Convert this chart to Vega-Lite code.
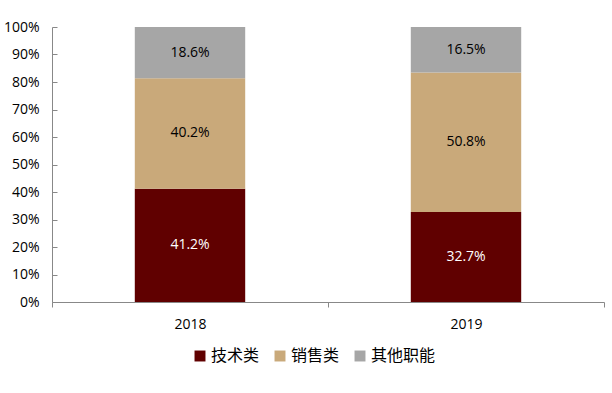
{
  "$schema": "https://vega.github.io/schema/vega-lite/v6.json",
  "width": 552,
  "height": 275,
  "autosize": {"type": "none"},
  "padding": {"left": 52, "top": 27, "right": 8, "bottom": 91},
  "background": "white",
  "data": {
    "values": [
      {"year": "2018", "cat": "技术类", "o": 1, "v": 41.2},
      {"year": "2018", "cat": "销售类", "o": 2, "v": 40.2},
      {"year": "2018", "cat": "其他职能", "o": 3, "v": 18.6},
      {"year": "2019", "cat": "技术类", "o": 1, "v": 32.7},
      {"year": "2019", "cat": "销售类", "o": 2, "v": 50.8},
      {"year": "2019", "cat": "其他职能", "o": 3, "v": 16.5}
    ]
  },
  "encoding": {
    "x": {
      "field": "year", "type": "nominal", "title": null,
      "scale": {"paddingInner": 0, "paddingOuter": 0},
      "axis": {"labelAngle": 0, "domainColor": "#888", "tickColor": "#888", "tickBand": "extent", "tickSize": 5, "labelPadding": 10, "labelFont": "Open Sans", "labelFontSize": 14, "labelColor": "#000"}
    },
    "y": {
      "field": "v", "type": "quantitative", "stack": "zero", "title": null,
      "scale": {"domain": [0, 100]},
      "axis": {"values": [0,10,20,30,40,50,60,70,80,90,100], "labelExpr": "datum.value + '%'", "grid": false, "domainColor": "#888", "tickColor": "#888", "tickSize": -5, "labelPadding": 18, "labelFont": "Open Sans", "labelFontSize": 14, "labelColor": "#000"}
    },
    "order": {"field": "o"}
  },
  "layer": [
    {
      "mark": {"type": "bar", "width": {"band": 0.4}},
      "encoding": {
        "color": {
          "field": "cat", "type": "nominal",
          "scale": {"domain": ["技术类", "销售类", "其他职能"], "range": ["#600000", "#C9A97A", "#A6A6A6"]},
          "legend": {"orient": "none", "legendX": 140, "legendY": 321, "direction": "horizontal", "title": null, "symbolType": "square", "symbolSize": 120, "symbolStrokeWidth": 0, "labelFont": "Noto Sans CJK SC", "labelFontSize": 16, "labelColor": "#000", "columnPadding": 12, "labelOffset": 3}
        }
      }
    },
    {
      "mark": {"type": "text", "font": "Open Sans", "fontSize": 14, "text": {"expr": "format(datum.v, '.1f') + '%'"}},
      "encoding": {
        "y": {"field": "v", "type": "quantitative", "stack": "zero", "bandPosition": 0.5},
        "color": {
          "condition": {"test": "datum.cat === '技术类'", "value": "#ffffff"},
          "value": "#000000"
        }
      }
    }
  ],
  "config": {"view": {"stroke": null}}
}
